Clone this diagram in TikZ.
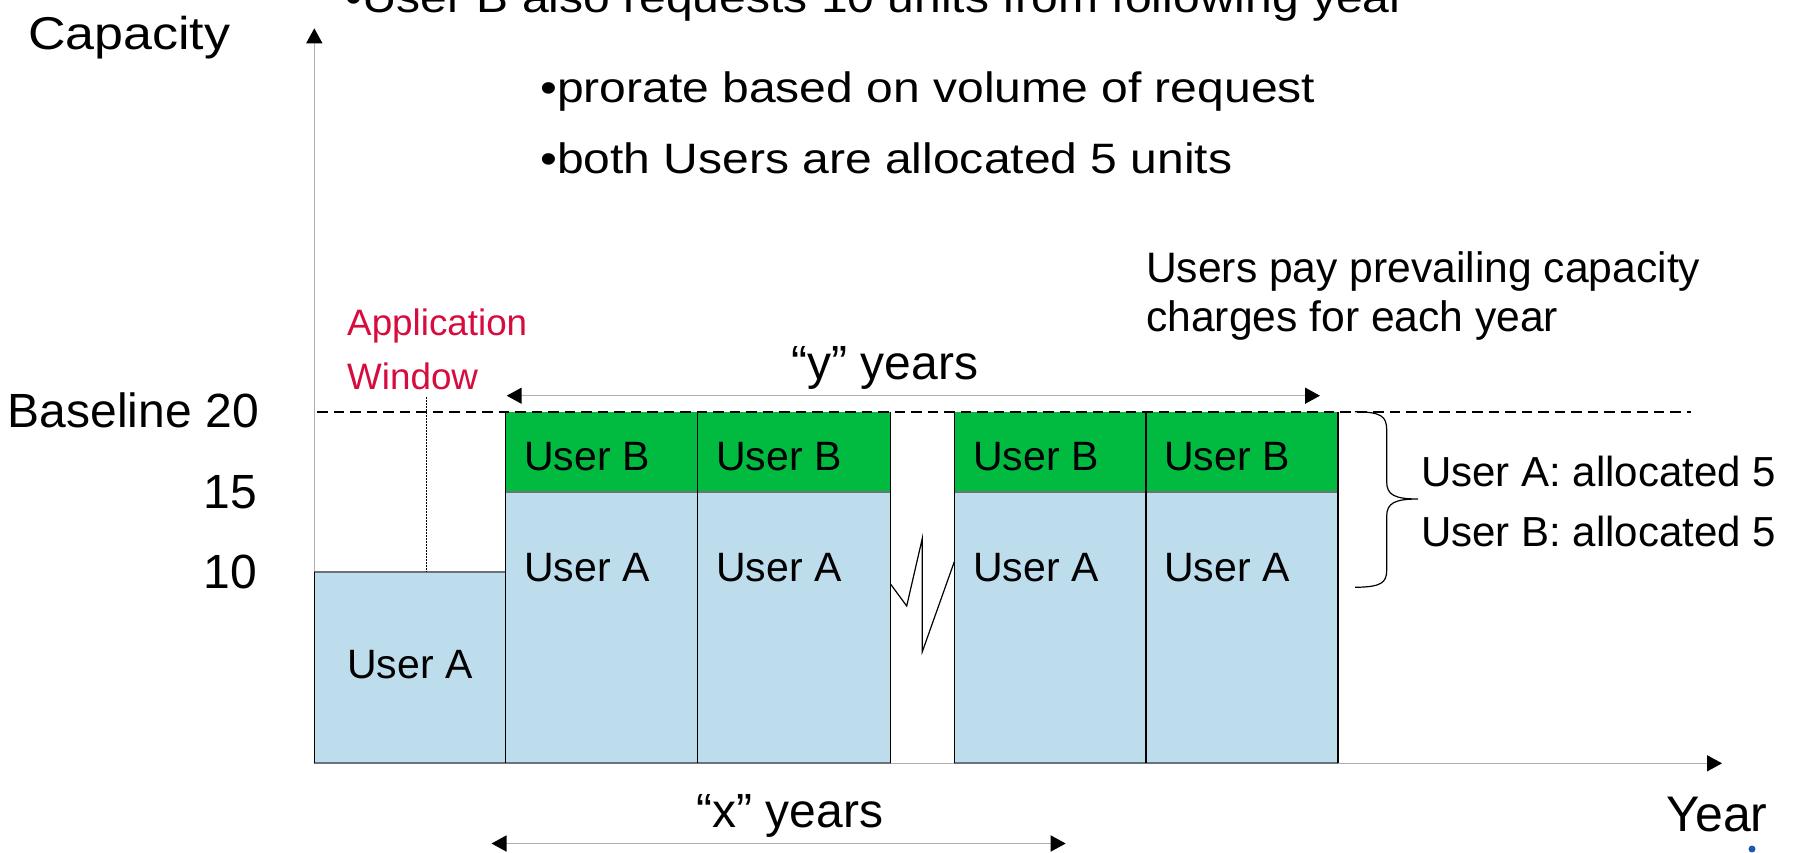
\documentclass[tikz,border=0pt]{standalone}
\usepackage{fontspec}
\setmainfont{Liberation Sans}
\newfontfamily\widefont[FakeStretch=1.13]{Liberation Sans}
\usetikzlibrary{arrows.meta}
\definecolor{barblue}{RGB}{189,220,236}
\definecolor{bargreen}{RGB}{0,187,64}
\definecolor{appred}{RGB}{214,12,62}
\definecolor{edgegray}{RGB}{105,115,120}
\definecolor{axisgray}{RGB}{175,175,175}
\definecolor{iconblue}{RGB}{30,90,170}
\begin{document}
\begin{tikzpicture}[x=1pt,y=-1pt,
  bigtxt/.style={inner sep=0pt, anchor=base west, font=\widefont\fontsize{42.5}{50}\selectfont},
  plaintxt/.style={inner sep=0pt, font=\fontsize{48}{56}\selectfont},
  barlbl/.style={inner sep=0pt, anchor=base west, font=\fontsize{41}{48}\selectfont},
  sidelbl/.style={inner sep=0pt, anchor=base west, font=\fontsize{42}{48}\selectfont},
  apptxt/.style={inner sep=0pt, anchor=base west, text=appred, font=\fontsize{36.8}{44}\selectfont},
  axisline/.style={draw=axisgray, line width=1.5pt, -{Triangle[length=15pt,width=16pt,color=black]}},
  dimline/.style={draw=axisgray, line width=1.5pt, {Triangle[length=15pt,width=16pt,color=black]}-{Triangle[length=15pt,width=16pt,color=black]}},
  hedge/.style={draw=edgegray, line width=2.2pt},
  vedge/.style={draw=black, line width=1.5pt},
  thinline/.style={draw=black, line width=1.2pt},
]
\useasboundingbox (0,0) rectangle (1801,852);

% axes
\coordinate (orig) at (314.3,763.3);
\coordinate (ytip) at (314.3,28.3);
\coordinate (xtip) at (1722,763.3);
\draw[axisline] (orig) -- (ytip);
\draw[axisline] (orig) -- (xtip);

% bars
\fill[barblue] (314.3,571.7) rectangle (505.7,763.3);
\fill[barblue] (505.7,491.7) rectangle (890.7,763.3);
\fill[bargreen] (505.7,411.7) rectangle (890.7,491.7);
\fill[barblue] (954.3,491.7) rectangle (1338.2,763.3);
\fill[bargreen] (954.3,411.7) rectangle (1338.2,491.7);

% horizontal edges
\draw[hedge] (314.3,571.7) -- (505.7,571.7);
\draw[hedge] (505.7,491.7) -- (890.7,491.7);
\draw[hedge] (954.3,491.7) -- (1338.2,491.7);
\draw[hedge] (314.3,763.3) -- (890.7,763.3);
\draw[hedge] (954.3,763.3) -- (1338.2,763.3);
% vertical edges
\draw[vedge] (314.3,571.7) -- (314.3,763.3);
\foreach \xx in {505.7,697.5,890.7,954.3,1146.2,1338.2}
  \draw[vedge] (\xx,411.7) -- (\xx,763.3);

% baseline dashed
\draw[black, line width=2.2pt, dash pattern=on 10.5pt off 6pt] (317,411.7) -- (1691,411.7);

% break zigzag
\draw[thinline] (890.7,584.3) -- (906.7,606) -- (922.3,538.3) -- (922.3,651.7) -- (954.3,561.7);

% application window marker
\draw[black, line width=1.2pt, dash pattern=on 1.5pt off 1.5pt] (426.3,397) -- (426.3,571.7);

% brace
\draw[thinline] (1355,411.7) .. controls (1381,412) and (1386.7,416) .. (1386.7,430)
  -- (1386.7,482) .. controls (1386.7,495) and (1395,499) .. (1418,499)
  .. controls (1395,499) and (1386.7,503) .. (1386.7,516)
  -- (1386.7,570) .. controls (1386.7,583) and (1381,587) .. (1355,587.3);

% dimension arrows
\coordinate (ya) at (506.7,395.7);
\coordinate (yb) at (1320,395.7);
\draw[dimline] (ya) -- (yb);
\coordinate (xa) at (491.5,843.5);
\coordinate (xb) at (1065.7,843.5);
\draw[dimline] (xa) -- (xb);

% texts
\node[bigtxt] (t1) at (345,12) {•User B also requests 10 units from following year};
\node[bigtxt] (t2) at (540,102) {•prorate based on volume of request};
\node[bigtxt] (t3) at (540,173) {•both Users are allocated 5 units};
\node[inner sep=0pt, anchor=base west, font=\widefont\fontsize{46}{54}\selectfont] (cap) at (28,49) {Capacity};
\node[inner sep=0pt, anchor=base, font=\fontsize{50}{58}\selectfont] (year) at (1717,831) {Year};

\node[plaintxt, anchor=base east] (b20) at (259,427) {Baseline 20};
\node[plaintxt, anchor=base east] (b15) at (257,508.5) {15};
\node[plaintxt, anchor=base east] (b10) at (257,588) {10};

\node[plaintxt, anchor=base] (yy) at (885,379) {“y” years};
\node[plaintxt, anchor=base] (xy) at (790,827) {“x” years};

\node[apptxt] (app1) at (347,335) {Application};
\node[apptxt] (app2) at (347,389) {Window};

\node[inner sep=0pt, anchor=base west, font=\fontsize{42.6}{50}\selectfont] (pay1) at (1146,282) {Users pay prevailing capacity};
\node[inner sep=0pt, anchor=base west, font=\fontsize{42.6}{50}\selectfont] (pay2) at (1146,331) {charges for each year};

\node[barlbl] (ub2) at (524,470) {User B};
\node[barlbl] (ub3) at (716,470) {User B};
\node[barlbl] (ub4) at (973,470) {User B};
\node[barlbl] (ub5) at (1164,470) {User B};
\node[barlbl] (ua2) at (524,581) {User A};
\node[barlbl] (ua3) at (716,581) {User A};
\node[barlbl] (ua4) at (973,581) {User A};
\node[barlbl] (ua5) at (1164,581) {User A};
\node[inner sep=0pt, anchor=base, font=\fontsize{41}{48}\selectfont] (ua1) at (410,678.5) {User A};

\node[sidelbl] (sa) at (1421,486) {User A: allocated 5};
\node[sidelbl] (sb) at (1421,546) {User B: allocated 5};

% small cut-off icon at bottom right
\fill[iconblue] (1752,849) circle (3.5pt);
\end{tikzpicture}
\end{document}
